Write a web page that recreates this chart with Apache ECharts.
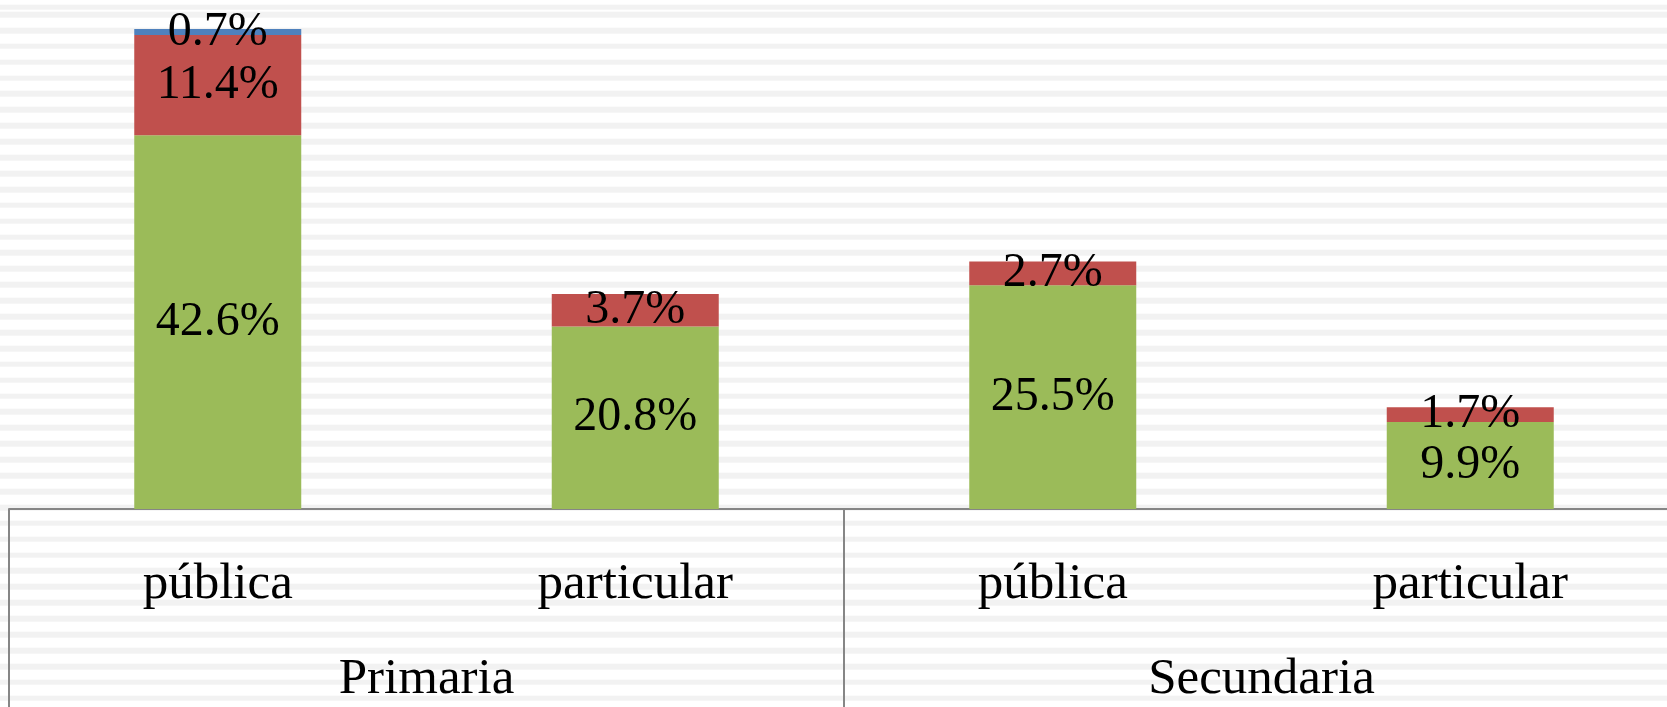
<!DOCTYPE html>
<html>
<head>
<meta charset="utf-8">
<script src="https://cdn.jsdelivr.net/npm/echarts@6/dist/echarts.min.js"></script>
<style>
  html, body { margin: 0; padding: 0; }
  #main {
    width: 1667px;
    height: 707px;
    background-color: #fff;
    background-image: repeating-linear-gradient(to bottom, #f2f2f2 0, #f2f2f2 5.7px, #fff 5.7px, #fff 15.9px);
    background-position: 0 11.7px;
  }
</style>
</head>
<body>
<div id="main"></div>
<script>
// categorias
var tipos = ["pública", "particular", "pública", "particular"];
var niveles = ["Primaria", "Secundaria"];

// porcentajes (de abajo hacia arriba)
var serie1 = [42.6, 20.8, 25.5, 9.9];
var serie2 = [11.4, 3.7, 2.7, 1.7];
var serie3 = [0.7, "-", "-", "-"];

var fuente = "Liberation Serif";
var gris = "#868686";

var myChart = echarts.init(document.getElementById("main"));

function etiqueta() {
  return {
    show: true,
    position: "inside",
    color: "#000",
    fontFamily: fuente,
    fontSize: 48,
    formatter: function(p) {
      if (p.value === "-" || p.value == null) return "";
      return p.value.toFixed(1) + "%";
    }
  };
}

myChart.setOption({
  backgroundColor: "transparent",
  animation: false,
  grid: {
    left: 9,
    width: 1670,
    top: 0,
    bottom: 198,
    outerBoundsMode: "none",
    containLabel: false
  },
  xAxis: [
    {
      type: "category",
      data: tipos,
      axisLine: { show: true, lineStyle: { color: gris, width: 2 } },
      axisTick: { show: false },
      axisLabel: {
        color: "#000",
        fontFamily: fuente,
        fontSize: 51,
        margin: 50
      }
    },
    {
      type: "category",
      position: "bottom",
      data: niveles,
      axisLine: { show: false },
      axisTick: {
        show: true,
        length: 200,
        lineStyle: { color: gris, width: 2 }
      },
      axisLabel: {
        color: "#000",
        fontFamily: fuente,
        fontSize: 51,
        margin: 145
      }
    }
  ],
  yAxis: {
    type: "value",
    min: 0,
    max: 58,
    show: false,
    splitLine: { show: false }
  },
  series: [
    {
      name: "Serie 1",
      type: "bar",
      stack: "total",
      barWidth: "40%",
      itemStyle: { color: "#9BBB59" },
      label: etiqueta(),
      data: serie1
    },
    {
      name: "Serie 2",
      type: "bar",
      stack: "total",
      itemStyle: { color: "#C0504D" },
      label: etiqueta(),
      data: serie2
    },
    {
      name: "Serie 3",
      type: "bar",
      stack: "total",
      itemStyle: { color: "#4F81BD" },
      label: etiqueta(),
      data: serie3
    }
  ]
});
</script>
</body>
</html>
